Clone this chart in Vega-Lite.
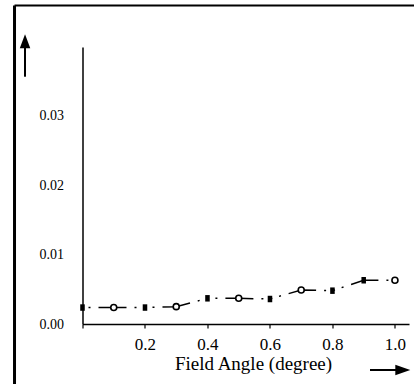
{
  "$schema": "https://vega.github.io/schema/vega-lite/v6.json",
  "width": 326.5,
  "height": 277,
  "autosize": {"type": "none"},
  "padding": {"left": 82.5, "top": 47, "right": 5, "bottom": 61},
  "background": "white",
  "config": {"view": {"stroke": null}, "font": "Liberation Serif"},
  "datasets": {
    "series": [
      {"angle": 0.0, "value": 0.00237},
      {"angle": 0.1, "value": 0.00237},
      {"angle": 0.2, "value": 0.00237},
      {"angle": 0.3, "value": 0.0025},
      {"angle": 0.4, "value": 0.0037},
      {"angle": 0.5, "value": 0.0037},
      {"angle": 0.6, "value": 0.0036},
      {"angle": 0.7, "value": 0.0049},
      {"angle": 0.8, "value": 0.0048},
      {"angle": 0.9, "value": 0.0063},
      {"angle": 1.0, "value": 0.0063}
    ],
    "segments": [
      {"part": "frameLeft", "angle": -0.2176, "value": -0.00864, "angle2": -0.2176, "value2": 0.04588},
      {"part": "frameTop", "angle": -0.2176, "value": 0.04588, "angle2": 1.07, "value2": 0.04588},
      {"part": "upShaft", "angle": -0.184, "value": 0.03562, "angle2": -0.184, "value2": 0.03976},
      {"part": "rightShaft", "angle": 0.9202, "value": -0.006626, "angle2": 1.0034, "value2": -0.006626}
    ],
    "heads": [
      {"part": "upHead", "angle": -0.184, "value": 0.04072},
      {"part": "rightHead", "angle": 1.0251, "value": -0.006626}
    ]
  },
  "encoding": {
    "x": {
      "field": "angle", "type": "quantitative",
      "scale": {"domain": [0, 1.045], "nice": false, "zero": false},
      "axis": {
        "values": [0, 0.2, 0.4, 0.6, 0.8, 1.0], "format": ".1f", "grid": false,
        "labelExpr": "datum.value == 0 ? '' : datum.label",
        "domainColor": "black", "domainWidth": 1.5,
        "tickColor": "black", "tickSize": 4, "tickWidth": 1.2,
        "labelFont": "Liberation Serif", "labelFontSize": 17, "labelColor": "black",
        "labelBaseline": "alphabetic", "labelPadding": 21, "labelDx": 3,
        "title": "Field Angle (degree)", "titleFont": "Liberation Serif", "titleFontSize": 19,
        "titleFontWeight": "normal", "titleColor": "black",
        "titleX": 170.5, "titleY": 45, "titleAlign": "center", "titleBaseline": "alphabetic"
      }
    },
    "y": {
      "field": "value", "type": "quantitative",
      "scale": {"domain": [0, 0.0399], "nice": false, "zero": false},
      "axis": {
        "values": [0, 0.01, 0.02, 0.03], "format": ".2f", "grid": false,
        "domainColor": "black", "domainWidth": 1.5, "ticks": false,
        "labelFont": "Liberation Serif", "labelFontSize": 14, "labelColor": "black",
        "labelPadding": 19, "title": null
      }
    }
  },
  "layer": [
    {
      "data": {"name": "series"},
      "mark": {"type": "line", "color": "black", "strokeWidth": 1.5, "strokeDash": [28, 8, 2, 7, 2, 7, 2, 8], "strokeDashOffset": 48}
    },
    {
      "data": {"name": "series"},
      "transform": [{"filter": {"field": "angle", "oneOf": [0.0, 0.2, 0.4, 0.6, 0.8, 0.9]}}],
      "mark": {"type": "point", "shape": "M-0.7,-1L0.7,-1L0.7,1L-0.7,1Z", "size": 42, "filled": true, "color": "black", "opacity": 1}
    },
    {
      "data": {"name": "series"},
      "transform": [{"filter": {"field": "angle", "oneOf": [0.1, 0.3, 0.5, 0.7, 1.0]}}],
      "mark": {"type": "point", "shape": "circle", "size": 36, "filled": false, "fill": "white", "stroke": "black", "strokeWidth": 1.6, "opacity": 1}
    },
    {
      "data": {"name": "segments"},
      "transform": [{"filter": {"field": "part", "equal": "frameLeft"}}],
      "mark": {"type": "rule", "color": "black", "strokeWidth": 3},
      "encoding": {"x2": {"field": "angle2"}, "y2": {"field": "value2"}}
    },
    {
      "data": {"name": "segments"},
      "transform": [{"filter": {"field": "part", "oneOf": ["frameTop", "upShaft", "rightShaft"]}}],
      "mark": {"type": "rule", "color": "black", "strokeWidth": 2},
      "encoding": {"x2": {"field": "angle2"}, "y2": {"field": "value2"}}
    },
    {
      "data": {"name": "heads"},
      "transform": [{"filter": {"field": "part", "equal": "upHead"}}],
      "mark": {"type": "point", "shape": "M0,-1L-0.75,1L0.75,1Z", "size": 196, "filled": true, "color": "black", "opacity": 1}
    },
    {
      "data": {"name": "heads"},
      "transform": [{"filter": {"field": "part", "equal": "rightHead"}}],
      "mark": {"type": "point", "shape": "M1,0L-1,-0.7L-1,0.7Z", "size": 225, "filled": true, "color": "black", "opacity": 1}
    }
  ]
}
